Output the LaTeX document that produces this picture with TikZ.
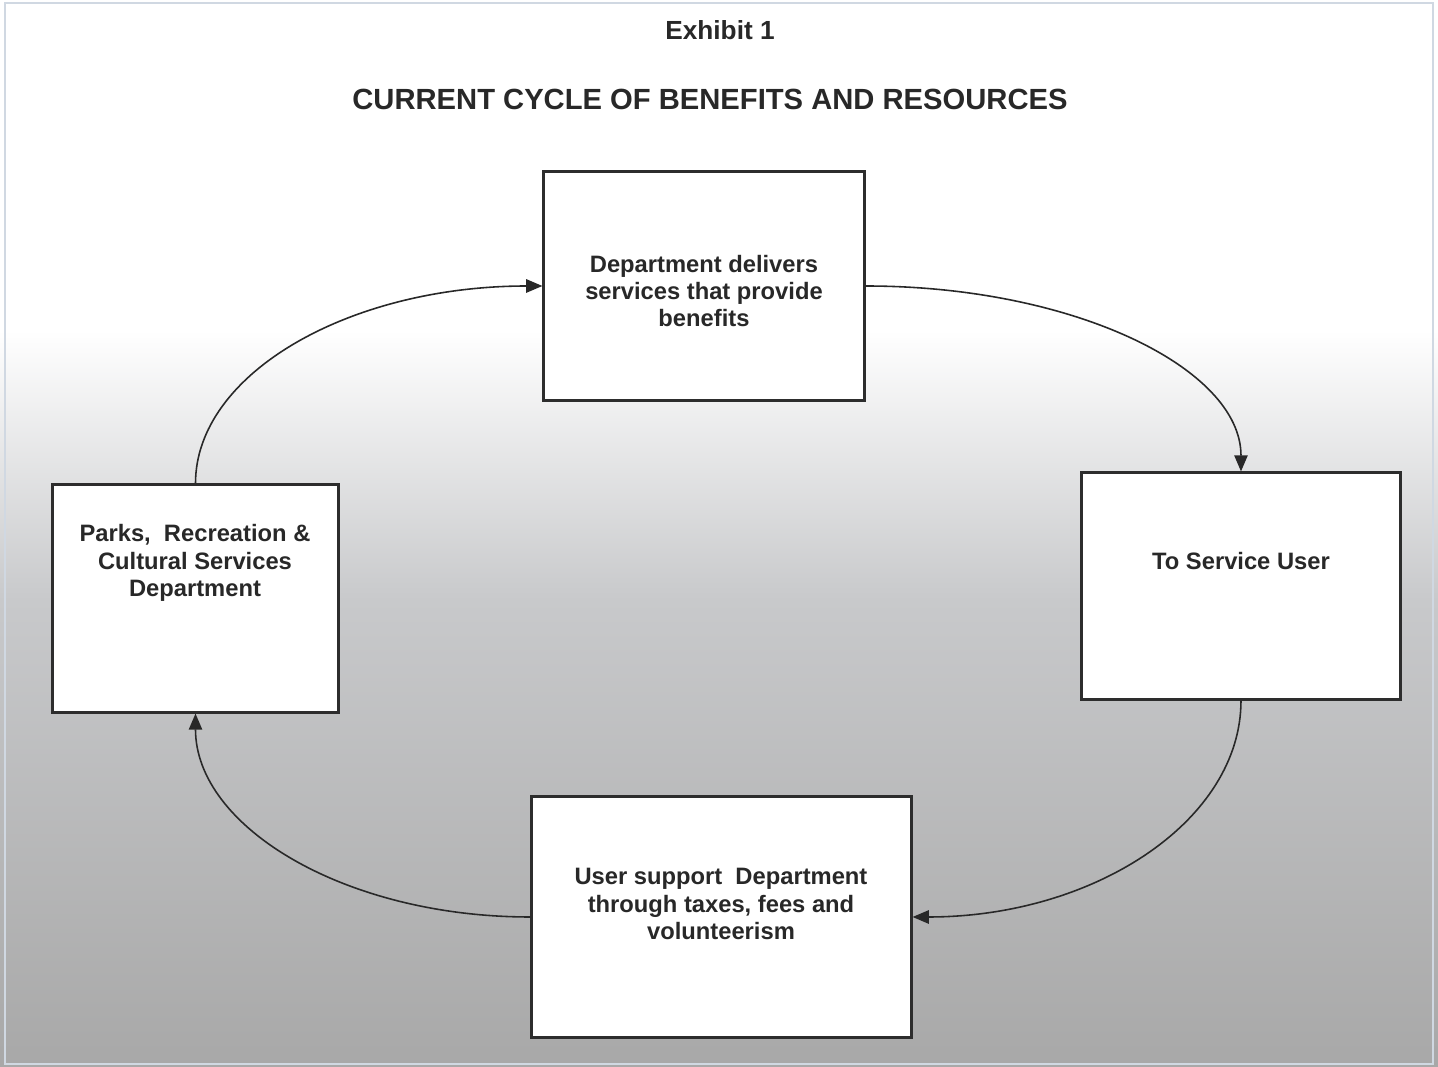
\documentclass[tikz,border=0pt]{standalone}
\usepackage{xcolor}
\usepackage{fontspec}
\setmainfont{Liberation Sans}
\usetikzlibrary{arrows.meta, positioning}
\definecolor{frame}{RGB}{45, 45, 45}
\definecolor{ink}{RGB}{40, 40, 40}
\definecolor{edge}{RGB}{208, 216, 226}
\definecolor{midgray}{RGB}{200, 201, 203}
\definecolor{lowgray}{RGB}{168, 168, 168}

\begin{document}
\begin{tikzpicture}[
    x=0.01cm, y=-0.01cm,
    box/.style n args={2}{rectangle, draw=frame, line width=0.85pt, fill=white, minimum width=#1cm, minimum height=#2cm},
    boxtext/.style={align=center, inner sep=0pt, text=ink, font=\bfseries\fontsize{6.75}{7.8}\selectfont},
    flow/.style={draw=ink, line width=0.45pt, -{Triangle[length=4.6pt, width=3.8pt]}}
]
    \useasboundingbox (0,0) rectangle (1438,1067);
    % background
    \fill[white] (0,0) rectangle (1438,330);
    \shade[top color=white, bottom color=midgray] (0,330) rectangle (1438,600);
    \shade[top color=midgray, bottom color=lowgray] (0,600) rectangle (1438,1067);
    \draw[edge, line width=0.6pt] (5,3) rectangle (1433,1064);

    \node[text=ink, font=\bfseries\fontsize{7.45}{9}\selectfont] (exhibit) at (720,30) {Exhibit 1};
    \node[text=ink, font=\bfseries\fontsize{8.3}{10}\selectfont] (title) at (710,99) {CURRENT CYCLE OF BENEFITS AND RESOURCES};

    \node[box={3.2}{2.28}] (dept) at (704,286) {};
    \node[box={3.18}{2.26}] (user) at (1241,586) {};
    \node[box={3.79}{2.40}] (support) at (721.5,917) {};
    \node[box={2.85}{2.27}] (prcs) at (195.5,598.5) {};

    \node[boxtext] (dept text) at (704,291) {Department delivers\\services that provide\\benefits};
    \node[boxtext] (user text) at (1241,561) {To Service User};
    \node[boxtext] (support text) at (721,904) {User support\ \ Department\\through taxes, fees and\\volunteerism};
    \node[boxtext] (prcs text) at (195,563) {Parks,\ \ Recreation \&\\Cultural Services\\Department};

    \draw[flow] (prcs.north) .. controls +(0,-110) and +(-193,0) .. (dept.west);
    \draw[flow] (dept.east) .. controls +(208,0) and +(0,-103) .. (user.north);
    \draw[flow] (user.south) .. controls +(0,120) and +(182,0) .. (support.east);
    \draw[flow] (support.west) .. controls +(-186,0) and +(0,113) .. (prcs.south);
\end{tikzpicture}
\end{document}
